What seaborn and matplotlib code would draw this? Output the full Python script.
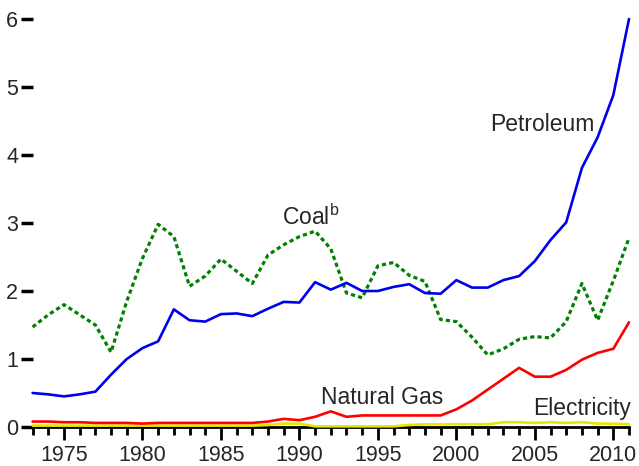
import numpy as np
import pandas as pd
import matplotlib
matplotlib.use("Agg")
import matplotlib.pyplot as plt
import seaborn as sns

years = list(range(1973, 2012))
petroleum = [0.50, 0.48, 0.45, 0.48, 0.52,
             0.77, 1.00, 1.16, 1.26, 1.73, 1.57, 1.55, 1.66, 1.67, 1.63,
             1.74, 1.84, 1.83, 2.13, 2.02, 2.12, 2.00, 2.00, 2.06, 2.10,
             1.97, 1.96, 2.16, 2.05, 2.05, 2.16, 2.22, 2.44, 2.75, 3.01,
             3.81, 4.26, 4.88, 6.00]
coal = [1.47, 1.65, 1.80, 1.65, 1.50,
        1.10, 1.85, 2.48, 2.98, 2.80, 2.07, 2.22, 2.47, 2.29, 2.11,
        2.53, 2.68, 2.80, 2.88, 2.62, 1.97, 1.90, 2.37, 2.42, 2.23,
        2.14, 1.58, 1.55, 1.32, 1.06, 1.15, 1.29, 1.33, 1.31, 1.55,
        2.11, 1.57, 2.15, 2.78]
natural_gas = [0.08, 0.08, 0.07, 0.07, 0.06,
               0.06, 0.06, 0.05, 0.06, 0.06, 0.06, 0.06, 0.06, 0.06, 0.06,
               0.08, 0.12, 0.10, 0.15, 0.23, 0.15, 0.17, 0.17, 0.17, 0.17,
               0.17, 0.17, 0.26, 0.39, 0.55, 0.71, 0.87, 0.74, 0.74, 0.84,
               0.99, 1.09, 1.15, 1.54]
electricity = [0.02, 0.02, 0.02, 0.02, 0.02,
               0.02, 0.02, 0.02, 0.02, 0.02, 0.02, 0.02, 0.02, 0.02, 0.02,
               0.03, 0.05, 0.05, 0.01, 0.01, 0.01, 0.01, 0.01, 0.01, 0.03,
               0.04, 0.04, 0.04, 0.04, 0.04, 0.07, 0.07, 0.06, 0.07, 0.06,
               0.07, 0.05, 0.05, 0.04]

series_names = ["Petroleum", "Coal", "Natural Gas", "Electricity"]
series_values = [petroleum, coal, natural_gas, electricity]
colors = {"Petroleum": "#0000ee", "Coal": "#008000",
          "Natural Gas": "#ff0000", "Electricity": "#e6e600"}

sns.set_style("ticks")
plt.rcParams["font.family"] = ["Liberation Sans", "DejaVu Sans"]

fig = plt.figure(figsize=(6.39, 4.66), dpi=100)
ax = fig.add_axes([32.6 / 639, 39 / 466, (629 - 32.6) / 639, (427 - 19) / 466])

draw_order = ["Electricity", "Natural Gas", "Coal", "Petroleum"]
for name in draw_order:
    vals = series_values[series_names.index(name)]
    df = pd.DataFrame({"year": years, "value": vals})
    ls = (0, (1.3, 1.0)) if name == "Coal" else "-"
    lw = 2.3 if name == "Coal" else 1.9
    sns.lineplot(data=df, x="year", y="value", ax=ax, color=colors[name],
                 linewidth=lw, linestyle=ls, legend=False)
for l in ax.get_lines():
    l.set_clip_on(False)

ax.set_xlim(1973, 2011)
ax.set_ylim(0, 6)
ax.set_xlabel("")
ax.set_ylabel("")
ax.set_xticks([1975, 1980, 1985, 1990, 1995, 2000, 2005, 2010])
ax.set_xticks(years, minor=True)
ax.set_yticks([0, 1, 2, 3, 4, 5, 6])
ax.set_yticklabels(["0", "1", "2", "3", "4", "5", "6"])
ax.tick_params(axis="x", which="major", length=9, width=2, labelsize=15.5,
               color="black", pad=4)
ax.tick_params(axis="x", which="minor", length=6, width=2, color="black")
ax.tick_params(axis="y", which="major", length=9, width=2.5, labelsize=15.5,
               color="black", pad=1.5)
for s in ["top", "right", "left"]:
    ax.spines[s].set_visible(False)
ax.spines["bottom"].set_linewidth(2)
ax.spines["bottom"].set_color("black")
ax.spines["bottom"].set_zorder(1)

ax.text(2005.5, 4.45, "Petroleum", fontsize=16.5, ha="center", va="center")
ax.text(1990.7, 3.08, "Coal$^{\\mathregular{b}}$", fontsize=16.5, ha="center", va="center")
ax.text(1995.3, 0.44, "Natural Gas", fontsize=16.5, ha="center", va="center")
ax.text(2008.0, 0.27, "Electricity", fontsize=16.5, ha="center", va="center")

fig.savefig("out.png", dpi=100)
